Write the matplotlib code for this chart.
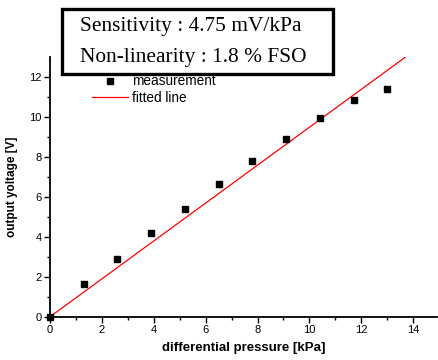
import numpy as np
import matplotlib
matplotlib.use("Agg")
import matplotlib.pyplot as plt
from matplotlib.patches import Rectangle

plt.rcParams['font.family'] = ['Liberation Sans', 'DejaVu Sans']

# measured points
pressure = [0.0, 1.3, 2.6, 3.9, 5.2, 6.5, 7.8, 9.1, 10.4, 11.7, 13.0]
voltage = [0.0, 1.63, 2.88, 4.18, 5.4, 6.63, 7.8, 8.93, 9.97, 10.88, 11.42]
# fitted line end points
fit_x = [0.0, 13.69]
fit_y = [0.0, 13.0]

fig = plt.figure(figsize=(4.38, 3.6), dpi=100)
ax = fig.add_axes([0.114, 0.12, 0.884, 0.721])

ax.plot(pressure, voltage, 's', color='black', ms=5, label='measurement', clip_on=False, zorder=3)
ax.plot(fit_x, fit_y, '-', color='red', lw=0.9, label='fitted line')

ax.set_xlim(0, 14.92)
ax.set_ylim(0, 13)
ax.set_xticks(np.arange(0, 15, 2))
ax.set_xticks(np.arange(1, 15, 2), minor=True)
ax.set_yticks(np.arange(0, 13, 2))
ax.set_yticks(np.arange(1, 13, 2), minor=True)
for s in ['top', 'right']:
    ax.spines[s].set_visible(False)
for s in ['left', 'bottom']:
    ax.spines[s].set_linewidth(1.3)
ax.tick_params(which='major', direction='out', length=4, width=1, labelsize=8, pad=2)
ax.tick_params(which='minor', direction='out', length=2.5, width=1)

ax.set_xlabel('differential pressure [kPa]', fontsize=9.5, fontweight='bold', labelpad=5)
ax.set_ylabel('output yoltage [V]', fontsize=8.5, fontweight='bold', labelpad=8)

leg = ax.legend(loc='upper left', bbox_to_anchor=(0.092, 0.96), frameon=False,
                fontsize=9.8, handlelength=2.6, handletextpad=0.3, labelspacing=0.2,
                borderpad=0)

# info box
fig.patches.append(Rectangle((0.1416, 0.794), 0.619, 0.181, transform=fig.transFigure,
                             fc='white', ec='black', lw=2.4, zorder=5))
fig.text(0.183, 0.925, 'Sensitivity : 4.75 mV/kPa', family='Liberation Serif',
         fontsize=15.4, va='center', ha='left', zorder=6)
fig.text(0.183, 0.839, 'Non-linearity : 1.8 % FSO', family='Liberation Serif',
         fontsize=15.4, va='center', ha='left', zorder=6)

fig.savefig('out.png', dpi=100)
